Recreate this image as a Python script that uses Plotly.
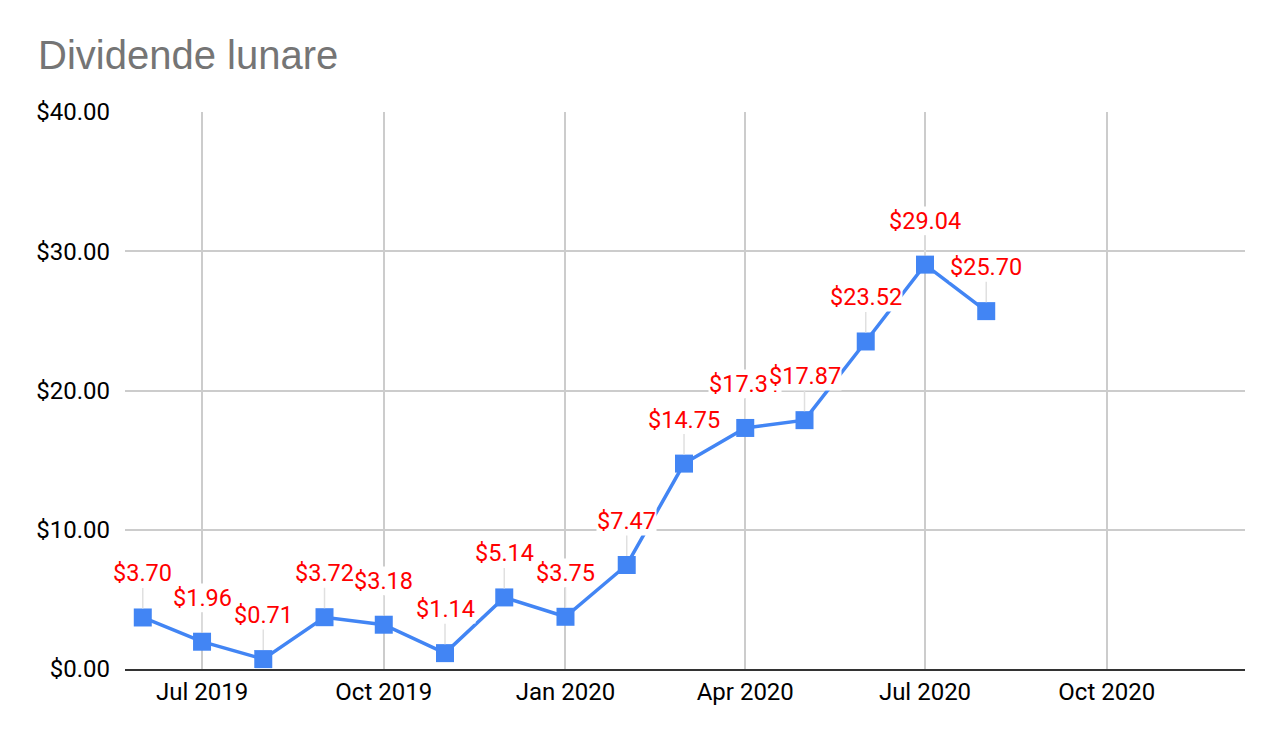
import plotly.graph_objects as go

months = ["2019-06-01", "2019-07-01", "2019-08-01", "2019-09-01", "2019-10-01",
          "2019-11-01", "2019-12-01", "2020-01-01", "2020-02-01", "2020-03-01",
          "2020-04-01", "2020-05-01", "2020-06-01", "2020-07-01", "2020-08-01"]
dividends = [3.70, 1.96, 0.71, 3.72, 3.18, 1.14, 5.14, 3.75, 7.47, 14.75,
             17.31, 17.87, 23.52, 29.04, 25.70]

title_text = "Dividende lunare"
y_ticks = [0, 10, 20, 30, 40]
x_ticks = ["2019-07-01", "2019-10-01", "2020-01-01", "2020-04-01", "2020-07-01", "2020-10-01"]
x_tick_labels = ["Jul 2019", "Oct 2019", "Jan 2020", "Apr 2020", "Jul 2020", "Oct 2020"]

fig = go.Figure()
fig.add_trace(go.Scatter(
    x=months, y=dividends, mode="lines+markers",
    line=dict(color="#4285F4", width=3.5),
    marker=dict(symbol="square", size=18, color="#4285F4"),
    hoverinfo="skip", showlegend=False,
))

for xv, yv in zip(months, dividends):
    fig.add_annotation(
        x=xv, y=yv, text=f"${yv:.2f}", showarrow=True,
        ax=0, ay=-44, arrowhead=0, arrowwidth=1.5, arrowcolor="#e0e0e0",
        standoff=9, bgcolor="white", borderpad=0,
        font=dict(family="Roboto", size=23.5, color="#ff0000"),
    )

fig.update_layout(
    width=1282, height=742,
    margin=dict(l=117, r=45, t=104, b=81),
    paper_bgcolor="white", plot_bgcolor="white",
    title=dict(text=title_text, x=30/1282, xanchor="left", xref="container",
               y=1 - 47/742, yanchor="middle",
               font=dict(family="Liberation Sans, Arial", size=40, color="#757575")),
    xaxis=dict(
        type="date", range=["2019-05-23", "2020-12-10"],
        tickvals=x_ticks, ticktext=x_tick_labels,
        showgrid=True, gridcolor="#cccccc", gridwidth=1.5,
        showline=True, linecolor="#333333", linewidth=2,
        ticks="", ticklabelstandoff=0,
        tickfont=dict(family="Roboto", size=24, color="#000000"),
    ),
    yaxis=dict(
        range=[0, 40], tickvals=y_ticks, tickformat="$.2f",
        showgrid=True, gridcolor="#cccccc", gridwidth=1.5,
        zeroline=False, showline=False, ticks="", ticklabelstandoff=14,
        tickfont=dict(family="Roboto", size=24, color="#000000"),
    ),
)

fig.write_html("out.html")
